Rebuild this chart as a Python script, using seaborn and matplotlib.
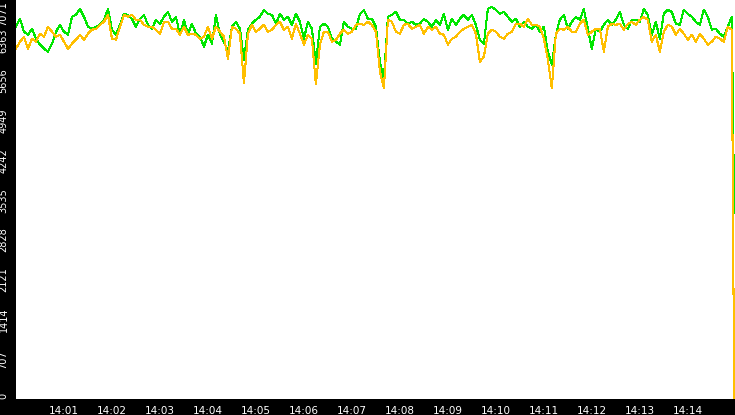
import numpy as np
import pandas as pd
import seaborn as sns
import matplotlib.pyplot as plt
import matplotlib.dates as mdates

# data: one sample every 5 s from 14:00:00
start = pd.Timestamp("2024-01-01 14:00:00")
step_s = 5

green_vals = [
    6620, 6761, 6531, 6478, 6584, 6407, 6301, 6230, 6177, 6319,
    6531, 6655, 6531, 6478, 6797, 6832, 6938, 6797, 6620, 6584,
    6620, 6655, 6744, 6938, 6567, 6478, 6655, 6850, 6832, 6761,
    6620, 6761, 6832, 6655, 6584, 6744, 6673, 6797, 6885, 6708,
    6797, 6478, 6744, 6496, 6673, 6496, 6443, 6266, 6478, 6319,
    6832, 6478, 6354, 6177, 6620, 6708, 6584, 6036, 6567, 6673,
    6744, 6797, 6921, 6850, 6832, 6673, 6850, 6744, 6797, 6655,
    6850, 6708, 6407, 6708, 6584, 5965, 6620, 6673, 6620, 6407,
    6354, 6301, 6708, 6620, 6584, 6584, 6850, 6921, 6761, 6761,
    6620, 6000, 5699, 6797, 6832, 6885, 6744, 6744, 6673, 6708,
    6655, 6673, 6761, 6708, 6620, 6744, 6655, 6850, 6567, 6761,
    6655, 6761, 6832, 6744, 6832, 6655, 6390, 6319, 6938, 6974,
    6921, 6850, 6885, 6797, 6708, 6761, 6620, 6708, 6620, 6584,
    6655, 6531, 6620, 6177, 5947, 6478, 6744, 6832, 6584, 6708,
    6797, 6744, 6938, 6584, 6230, 6584, 6531, 6655, 6744, 6655,
    6744, 6885, 6655, 6584, 6744, 6744, 6708, 6938, 6832, 6478,
    6708, 6407, 6850, 6921, 6885, 6673, 6655, 6921, 6850, 6797,
    6708, 6655, 6921, 6797, 6567, 6584, 6496, 6443, 6620, 6797,
]

orange_vals = [
    6230, 6354, 6443, 6230, 6407, 6354, 6496, 6443, 6620, 6531,
    6443, 6478, 6354, 6230, 6319, 6390, 6478, 6390, 6496, 6567,
    6584, 6655, 6708, 6832, 6407, 6390, 6620, 6832, 6797, 6832,
    6744, 6744, 6655, 6620, 6620, 6567, 6496, 6708, 6708, 6584,
    6584, 6478, 6620, 6478, 6496, 6478, 6407, 6443, 6620, 6407,
    6620, 6531, 6443, 6053, 6620, 6584, 6496, 5611, 6496, 6655,
    6531, 6584, 6655, 6531, 6567, 6655, 6708, 6567, 6620, 6407,
    6673, 6496, 6301, 6478, 6407, 5593, 6301, 6531, 6531, 6354,
    6390, 6496, 6567, 6496, 6531, 6655, 6673, 6655, 6708, 6655,
    6531, 5823, 5522, 6744, 6708, 6531, 6496, 6655, 6673, 6584,
    6620, 6655, 6496, 6620, 6567, 6620, 6496, 6478, 6301, 6407,
    6443, 6531, 6584, 6620, 6655, 6496, 6000, 6089, 6496, 6567,
    6531, 6443, 6407, 6496, 6531, 6673, 6673, 6620, 6761, 6655,
    6655, 6620, 6407, 6036, 5522, 6496, 6584, 6567, 6620, 6531,
    6531, 6673, 6744, 6478, 6531, 6584, 6584, 6177, 6620, 6673,
    6655, 6673, 6567, 6673, 6708, 6655, 6744, 6797, 6744, 6354,
    6478, 6177, 6531, 6655, 6620, 6478, 6584, 6496, 6390, 6478,
    6354, 6496, 6407, 6301, 6354, 6443, 6407, 6354, 6620, 6567,
]

# last sample, where both series fall away
last_s = 898
green_last = 3310
orange_last = 0

y_tick_labels = ["0", "707", "1414", "2121", "2828", "3535",
                 "4242", "4949", "5656", "6363", "7071"]

green_col = "#00e600"
orange_col = "#ffbf00"

#%% build frame
secs = list(np.arange(len(green_vals)) * step_s) + [last_s]
df = pd.DataFrame({
    "time": start + pd.to_timedelta(secs, unit="s"),
    "green": green_vals + [green_last],
    "orange": orange_vals + [orange_last],
})

#%% plot
sns.set_style("white")
plt.rcParams["font.family"] = ["DejaVu Sans"]

fig = plt.figure(figsize=(7.35, 4.15), dpi=100, facecolor="black")
ax = fig.add_axes([16 / 735, 16 / 415, 719 / 735, 399 / 415])
ax.set_facecolor("white")

sns.lineplot(data=df, x="time", y="green", color=green_col, lw=0.75,
             antialiased=False, ax=ax)
sns.lineplot(data=df, x="time", y="orange", color=orange_col, lw=0.75,
             antialiased=False, ax=ax)

ax.set_xlim(start, start + pd.Timedelta(seconds=899))
ax.set_ylim(0, 7096)

ax.xaxis.set_major_locator(mdates.MinuteLocator(byminute=range(1, 15)))
ax.xaxis.set_major_formatter(mdates.DateFormatter("%H:%M"))

ax.set_yticks(np.linspace(0, 7071, 11), labels=y_tick_labels)
ax.tick_params(axis="both", colors="white", length=4.3, width=0.8,
               direction="out")
ax.tick_params(axis="x", labelsize=7.5, pad=1)
ax.tick_params(axis="y", labelsize=7, pad=1)

for lab in ax.get_yticklabels():
    lab.set_rotation(90)
    lab.set_va("center")
ax.get_yticklabels()[0].set_va("bottom")
ax.get_yticklabels()[-1].set_va("top")

ax.set_xlabel("")
ax.set_ylabel("")
for s in ax.spines.values():
    s.set_visible(False)

fig.savefig("out.png", dpi=100, facecolor="black")
